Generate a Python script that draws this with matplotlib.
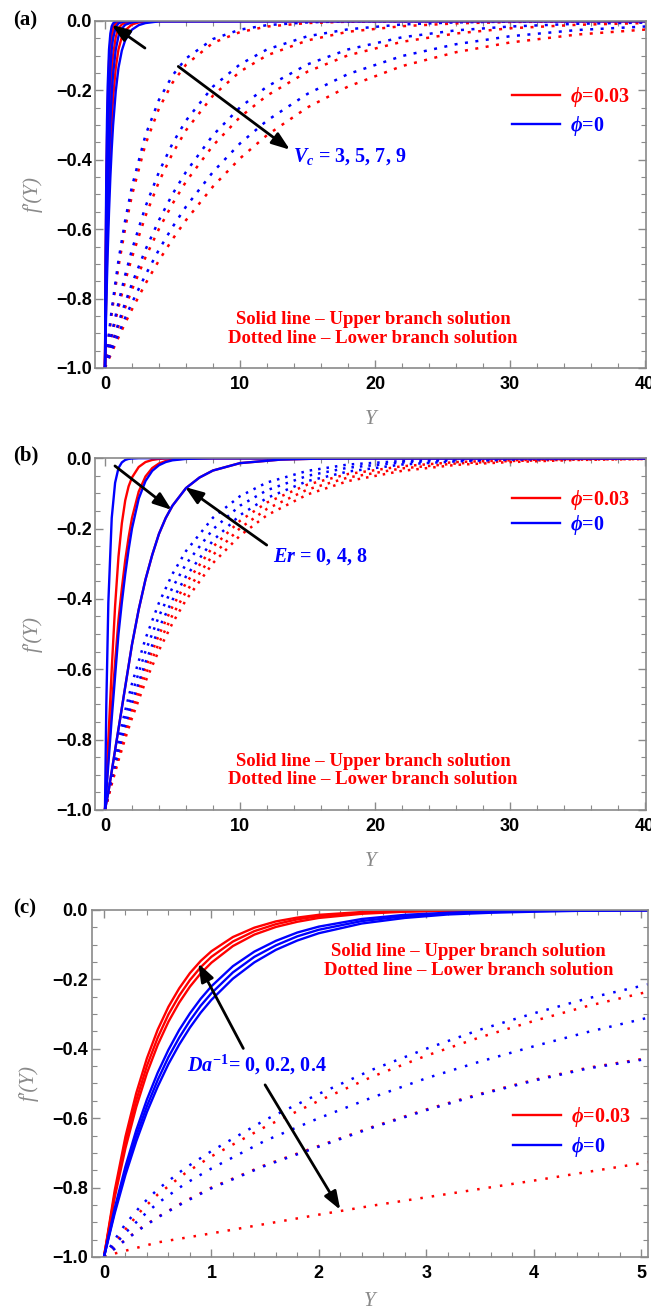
import matplotlib.pyplot as plt
from matplotlib.ticker import MultipleLocator

plt.rcParams['font.family'] = 'Liberation Sans'
plt.rcParams['font.weight'] = 'bold'
plt.rcParams['mathtext.fontset'] = 'custom'
plt.rcParams['mathtext.rm'] = 'Liberation Serif:bold'
plt.rcParams['mathtext.it'] = 'Liberation Serif:bold:italic'
plt.rcParams['mathtext.bf'] = 'Liberation Serif:bold'

# ---------------- panel (a): V_c = 3, 5, 7, 9 ----------------
a_y_upper = [0, 0.05, 0.1, 0.15, 0.2, 0.3, 0.4, 0.5, 0.6, 0.8, 1.0, 1.25, 1.5, 2.0, 2.5, 3.0, 4.0, 41]
a_upper_red = [
    [-1, -0.700, -0.490, -0.343, -0.240, -0.117, -0.057, -0.028, -0.014, -0.003, -0.001, 0, 0, 0, 0, 0, 0, 0],
    [-1, -0.745, -0.555, -0.414, -0.308, -0.171, -0.095, -0.053, -0.029, -0.009, -0.003, -0.001, 0, 0, 0, 0, 0, 0],
    [-1, -0.825, -0.681, -0.562, -0.463, -0.315, -0.215, -0.146, -0.099, -0.046, -0.021, -0.010, -0.005, -0.002, -0.001, 0, 0, 0],
    [-1, -0.882, -0.779, -0.687, -0.607, -0.472, -0.368, -0.287, -0.223, -0.135, -0.082, -0.046, -0.027, -0.010, -0.004, -0.002, 0, 0],
]
a_upper_blue = [
    [-1, -0.659, -0.435, -0.287, -0.189, -0.082, -0.036, -0.015, -0.007, -0.001, 0, 0, 0, 0, 0, 0, 0, 0],
    [-1, -0.779, -0.607, -0.472, -0.368, -0.223, -0.135, -0.082, -0.050, -0.018, -0.007, -0.003, -0.001, 0, 0, 0, 0, 0],
    [-1, -0.855, -0.732, -0.626, -0.535, -0.392, -0.287, -0.210, -0.153, -0.082, -0.044, -0.022, -0.011, -0.004, -0.001, 0, 0, 0],
    [-1, -0.905, -0.819, -0.741, -0.670, -0.549, -0.449, -0.368, -0.301, -0.202, -0.135, -0.085, -0.055, -0.025, -0.012, -0.006, -0.001, 0],
]
a_y_lower = [0, 0.5, 1, 1.5, 2, 3, 4, 5, 6, 8, 10, 12, 15, 18, 22, 26, 30, 35, 41]
a_lower_red = [
    [-1, -0.842, -0.708, -0.596, -0.502, -0.355, -0.252, -0.178, -0.126, -0.063, -0.032, -0.016, -0.006, -0.002, -0.001, 0, 0, 0, 0],
    [-1, -0.908, -0.825, -0.749, -0.681, -0.562, -0.463, -0.382, -0.315, -0.215, -0.146, -0.099, -0.056, -0.031, -0.015, -0.007, -0.003, -0.001, 0],
    [-1, -0.938, -0.880, -0.825, -0.774, -0.681, -0.599, -0.527, -0.463, -0.359, -0.277, -0.215, -0.146, -0.099, -0.060, -0.036, -0.021, -0.011, -0.005],
    [-1, -0.955, -0.912, -0.870, -0.831, -0.757, -0.690, -0.629, -0.574, -0.477, -0.396, -0.329, -0.249, -0.189, -0.130, -0.090, -0.062, -0.039, -0.022],
]
a_lower_blue = [
    [-1, -0.831, -0.690, -0.574, -0.477, -0.329, -0.227, -0.157, -0.108, -0.052, -0.025, -0.012, -0.004, -0.001, 0, 0, 0, 0, 0],
    [-1, -0.901, -0.812, -0.732, -0.659, -0.535, -0.435, -0.353, -0.287, -0.189, -0.125, -0.082, -0.044, -0.024, -0.010, -0.004, -0.002, -0.001, 0],
    [-1, -0.933, -0.870, -0.812, -0.757, -0.659, -0.574, -0.499, -0.435, -0.329, -0.249, -0.189, -0.125, -0.082, -0.047, -0.027, -0.016, -0.008, -0.004],
    [-1, -0.949, -0.901, -0.855, -0.812, -0.732, -0.659, -0.594, -0.535, -0.435, -0.353, -0.287, -0.210, -0.153, -0.101, -0.067, -0.044, -0.026, -0.014],
]

# ---------------- panel (b): Er = 0, 4, 8 ----------------
b_y_upper = [0, 0.1, 0.25, 0.5, 0.75, 1, 1.25, 1.5, 1.75, 2, 2.5, 3, 3.5, 4, 4.5, 5, 6, 7, 8, 10, 13, 16, 20, 41]
b_upper_red = [
    [-1, -0.91, -0.80, -0.60, -0.42, -0.28, -0.185, -0.12, -0.08, -0.055, -0.025, -0.011, -0.005, -0.002, -0.001, 0, 0, 0, 0, 0, 0, 0, 0, 0],
    [-1, -0.94, -0.85, -0.71, -0.58, -0.46, -0.37, -0.29, -0.225, -0.17, -0.095, -0.052, -0.028, -0.015, -0.008, -0.004, -0.001, 0, 0, 0, 0, 0, 0, 0],
    [-1, -0.98, -0.95, -0.89, -0.83, -0.77, -0.71, -0.65, -0.59, -0.53, -0.43, -0.345, -0.275, -0.215, -0.17, -0.135, -0.085, -0.055, -0.035, -0.014, -0.004, -0.001, 0, 0],
]
b_upper_blue = [
    [-1, -0.70, -0.41, -0.17, -0.07, -0.028, -0.012, -0.005, -0.002, -0.001, 0, 0, 0, 0, 0, 0, 0, 0, 0, 0, 0, 0, 0, 0],
    [-1, -0.95, -0.87, -0.74, -0.62, -0.50, -0.41, -0.33, -0.26, -0.20, -0.115, -0.065, -0.036, -0.02, -0.011, -0.006, -0.002, -0.001, 0, 0, 0, 0, 0, 0],
    [-1, -0.98, -0.95, -0.89, -0.83, -0.77, -0.71, -0.65, -0.59, -0.53, -0.43, -0.345, -0.275, -0.215, -0.17, -0.135, -0.085, -0.055, -0.035, -0.014, -0.004, -0.001, 0, 0],
]
b_y_lower = [0, 0.5, 1, 1.5, 2, 3, 4, 5, 6, 8, 10, 12, 15, 18, 22, 26, 30, 35, 41]
b_lower_red = [
    [-1, -0.917, -0.842, -0.772, -0.708, -0.596, -0.502, -0.422, -0.355, -0.252, -0.178, -0.126, -0.075, -0.045, -0.023, -0.011, -0.006, -0.002, -0.001],
    [-1, -0.923, -0.851, -0.785, -0.724, -0.616, -0.525, -0.446, -0.380, -0.275, -0.199, -0.144, -0.089, -0.055, -0.029, -0.015, -0.008, -0.004, -0.002],
    [-1, -0.927, -0.859, -0.797, -0.739, -0.635, -0.546, -0.469, -0.403, -0.298, -0.220, -0.162, -0.103, -0.065, -0.036, -0.019, -0.011, -0.005, -0.002],
]
b_lower_blue = [
    [-1, -0.895, -0.801, -0.717, -0.641, -0.513, -0.411, -0.329, -0.264, -0.169, -0.108, -0.069, -0.036, -0.018, -0.008, -0.003, -0.001, 0, 0],
    [-1, -0.905, -0.819, -0.741, -0.670, -0.549, -0.449, -0.368, -0.301, -0.202, -0.135, -0.091, -0.050, -0.027, -0.012, -0.006, -0.003, -0.001, 0],
    [-1, -0.913, -0.834, -0.761, -0.695, -0.580, -0.483, -0.403, -0.336, -0.234, -0.162, -0.113, -0.065, -0.038, -0.018, -0.009, -0.004, -0.002, -0.001],
]

# ---------------- panel (c): Da^-1 = 0, 0.2, 0.4 ----------------
c_y_upper = [0, 0.1, 0.2, 0.3, 0.4, 0.5, 0.6, 0.7, 0.8, 0.9, 1.0, 1.2, 1.4, 1.6, 1.8, 2.0, 2.4, 2.8, 3.2, 3.6, 4.0, 4.5, 5.1]
c_upper_red = [
    [-1, -0.808, -0.653, -0.528, -0.427, -0.345, -0.279, -0.226, -0.182, -0.147, -0.119, -0.078, -0.051, -0.033, -0.022, -0.014, -0.006, -0.003, -0.001, -0.001, 0, 0, 0],
    [-1, -0.819, -0.670, -0.549, -0.449, -0.368, -0.301, -0.247, -0.202, -0.165, -0.135, -0.091, -0.061, -0.041, -0.027, -0.018, -0.008, -0.004, -0.002, -0.001, 0, 0, 0],
    [-1, -0.828, -0.686, -0.568, -0.470, -0.389, -0.322, -0.267, -0.221, -0.183, -0.152, -0.104, -0.071, -0.049, -0.034, -0.023, -0.011, -0.005, -0.002, -0.001, -0.001, 0, 0],
]
c_upper_blue = [
    [-1, -0.859, -0.739, -0.635, -0.546, -0.469, -0.403, -0.346, -0.298, -0.256, -0.220, -0.162, -0.120, -0.089, -0.065, -0.048, -0.026, -0.014, -0.008, -0.004, -0.002, -0.001, 0],
    [-1, -0.867, -0.751, -0.651, -0.565, -0.490, -0.424, -0.368, -0.319, -0.276, -0.240, -0.180, -0.135, -0.102, -0.076, -0.057, -0.032, -0.018, -0.010, -0.006, -0.003, -0.002, -0.001],
    [-1, -0.874, -0.763, -0.667, -0.582, -0.509, -0.444, -0.388, -0.339, -0.296, -0.259, -0.198, -0.151, -0.115, -0.088, -0.067, -0.039, -0.023, -0.013, -0.008, -0.005, -0.002, -0.001],
]
c_y_lower = [0, 0.1, 0.2, 0.35, 0.5, 0.75, 1.0, 1.5, 2.0, 2.5, 3.0, 3.5, 4.0, 4.5, 5.1]
c_lower_red = [
    [-1, -0.96, -0.92, -0.865, -0.82, -0.76, -0.71, -0.625, -0.55, -0.48, -0.42, -0.367, -0.32, -0.277, -0.233],
    [-1, -0.975, -0.95, -0.915, -0.885, -0.84, -0.80, -0.735, -0.68, -0.625, -0.575, -0.53, -0.49, -0.455, -0.425],
    [-1, -0.99, -0.982, -0.97, -0.958, -0.945, -0.932, -0.905, -0.878, -0.852, -0.828, -0.804, -0.78, -0.755, -0.725],
]
c_lower_blue = [
    [-1, -0.95, -0.905, -0.85, -0.805, -0.745, -0.695, -0.605, -0.53, -0.46, -0.40, -0.345, -0.298, -0.255, -0.212],
    [-1, -0.965, -0.93, -0.885, -0.845, -0.79, -0.745, -0.665, -0.60, -0.54, -0.485, -0.437, -0.393, -0.352, -0.308],
    [-1, -0.976, -0.951, -0.917, -0.886, -0.842, -0.802, -0.737, -0.682, -0.627, -0.577, -0.532, -0.492, -0.457, -0.427],
]

legend_labels = [r'$\phi$=0.03', r'$\phi$=0']
note = 'Solid line \u2013 Upper branch solution\nDotted line \u2013 Lower branch solution'

RED = '#ff0000'
BLUE = '#0000ff'
GREY = '#8a8a8a'
serif = ['Liberation Serif', 'DejaVu Serif']


def style_axes(ax, xlim, xmaj, xmin, xlabel_y=-0.12):
    ax.set_xlim(*xlim)
    ax.set_ylim(-1, 0)
    ax.xaxis.set_major_locator(MultipleLocator(xmaj))
    ax.xaxis.set_minor_locator(MultipleLocator(xmin))
    ax.yaxis.set_major_locator(MultipleLocator(0.2))
    ax.yaxis.set_minor_locator(MultipleLocator(0.05))
    ax.tick_params(which='both', direction='in', top=True, right=True, color=GREY, labelsize=13)
    ax.tick_params(which='major', length=6, width=1)
    ax.tick_params(which='minor', length=3.5, width=0.8)
    ax.tick_params(axis='y', pad=2.5)
    ax.tick_params(axis='x', pad=6)
    for s in ax.spines.values():
        s.set_color(GREY)
        s.set_linewidth(1.2)
    ax.set_ylabel('f\u2032(Y)', family=serif, style='italic', weight='normal', color=GREY, size=15)
    ax.set_xlabel('Y', family=serif, style='italic', weight='normal', color=GREY, size=15)
    ax.yaxis.set_label_coords(-0.095, 0.5)
    ax.xaxis.set_label_coords(0.5, xlabel_y)


def draw(ax, y_up, up_red, up_blue, y_low, low_red, low_blue, dots):
    for r, b in zip(low_red, low_blue):
        ax.plot(y_low, r, color=RED, lw=1.8, linestyle=dots)
        ax.plot(y_low, b, color=BLUE, lw=1.8, linestyle=dots)
    red_h = blue_h = None
    for vals in up_red:
        red_h, = ax.plot(y_up, vals, color=RED, lw=1.7)
    for vals in up_blue:
        blue_h, = ax.plot(y_up, vals, color=BLUE, lw=1.7)
    return red_h, blue_h


def add_legend(ax, handles, y_top, spacing):
    leg = ax.legend(handles, legend_labels, loc='upper left', bbox_to_anchor=(0.757, y_top),
                    frameon=False, borderpad=0, borderaxespad=0, handlelength=2.4,
                    handletextpad=0.5, labelspacing=spacing,
                    prop=dict(family=serif, weight='bold', size=14.5))
    for t, c in zip(leg.get_texts(), [RED, BLUE]):
        t.set_color(c)


def arrow(ax, tail, head):
    ax.annotate('', xy=head, xytext=tail,
                arrowprops=dict(arrowstyle='-|>,head_length=1.1,head_width=0.4', color='black',
                                lw=2, shrinkA=0, shrinkB=0, mutation_scale=10))


fig = plt.figure(figsize=(6.51, 13.11), dpi=100)

# (a)
ax = fig.add_axes([0.1459, 0.7193, 0.8464, 0.2647])
h = draw(ax, a_y_upper, a_upper_red, a_upper_blue, a_y_lower, a_lower_red, a_lower_blue, (0, (1.2, 3)))
style_axes(ax, (-0.74, 40.07), 10, 2)
add_legend(ax, h, 0.815, 0.25)
arrow(ax, (2.96, -0.078), (0.5, -0.011))
arrow(ax, (5.43, -0.131), (13.7, -0.371))
ax.text(13.9, -0.391, r'$V_c$ = 3, 5, 7, 9', color=BLUE, family=serif, weight='bold', size=14.5, va='center')
ax.text(0.505, 0.112, note, transform=ax.transAxes, color=RED, family=serif, weight='bold',
        size=13.5, ha='center', va='center', linespacing=1.2)

# (b)
ax = fig.add_axes([0.1459, 0.3822, 0.8464, 0.2683])
h = draw(ax, b_y_upper, b_upper_red, b_upper_blue, b_y_lower, b_lower_red, b_lower_blue, (0, (1, 2.4)))
style_axes(ax, (-0.74, 40.07), 10, 2)
add_legend(ax, h, 0.915, 0.05)
arrow(ax, (0.74, -0.022), (4.94, -0.147))
arrow(ax, (11.98, -0.247), (5.93, -0.082))
ax.text(12.45, -0.28, r'$Er$ = 0, 4, 8', color=BLUE, family=serif, weight='bold', size=14.5, va='center')
ax.text(0.505, 0.112, note, transform=ax.transAxes, color=RED, family=serif, weight='bold',
        size=13.5, ha='center', va='center', linespacing=1.1)

# (c)
ax = fig.add_axes([0.1406, 0.0412, 0.8548, 0.2647])
h = draw(ax, c_y_upper, c_upper_red, c_upper_blue, c_y_lower, c_lower_red, c_lower_blue, (0, (1, 3.6)))
style_axes(ax, (-0.116, 5.065), 1, 0.2, xlabel_y=-0.1)
add_legend(ax, h, 0.437, 0.3)
arrow(ax, (1.297, -0.399), (0.878, -0.154))
arrow(ax, (1.5, -0.504), (2.2, -0.864))
ax.text(0.77, -0.447, r'$Da^{-1}$= 0, 0.2, 0.4', color=BLUE, family=serif, weight='bold', size=14.5, va='center')
ax.text(0.677, 0.853, note, transform=ax.transAxes, color=RED, family=serif, weight='bold',
        size=13.5, ha='center', va='center', linespacing=1.2)

for lab, y in [('(a)', 0.9847), ('(b)', 0.6522), ('(c)', 0.3074)]:
    fig.text(0.02, y, lab, family=serif, weight='bold', size=15, va='center')

fig.savefig('out.png', dpi=100)
